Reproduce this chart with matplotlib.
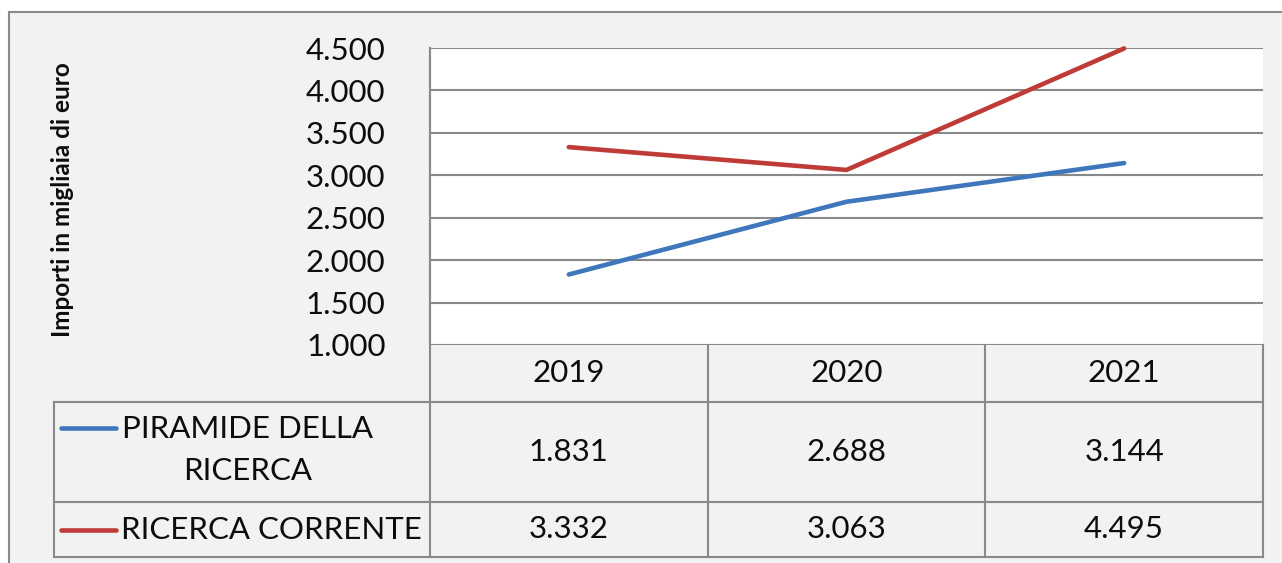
import matplotlib.pyplot as plt
from matplotlib.ticker import FuncFormatter

plt.rcParams['font.family'] = ['Lato', 'DejaVu Sans']

years = ['2019', '2020', '2021']
piramide = [1831, 2688, 3144]
corrente = [3332, 3063, 4495]
series_names = ['PIRAMIDE DELLA\nRICERCA', 'RICERCA CORRENTE']
series_colors = ['#3f77bc', '#bf3b37']
yticks = [1000, 1500, 2000, 2500, 3000, 3500, 4000, 4500]


def it_num(v, pos=None):
    # italian thousands separator
    return f"{int(v):,}".replace(",", ".")


W, H = 1282, 563
fig = plt.figure(figsize=(W / 100, H / 100), dpi=100)
fig.patch.set_facecolor('white')

grid_c = '#898989'
bg = '#f2f2f2'
txt_c = '#0d0d0d'
fs = 22.5

# pixel layout
px_left, px_right = 430, 1263
px_top, px_axis = 48, 345
row_y = [345, 402, 502, 557]
tab_left = 54

# background in pixel coords
bgax = fig.add_axes([0, 0, 1, 1])
bgax.set_xlim(0, W)
bgax.set_ylim(H, 0)
bgax.axis('off')
bgax.add_patch(plt.Rectangle((9, 12), W, H, facecolor=bg, edgecolor=grid_c, lw=1.5))

# plot area
ax = fig.add_axes([px_left / W, 1 - px_axis / H, (px_right - px_left) / W, (px_axis - px_top) / H])
ax.set_facecolor('white')
ax.set_xlim(-0.5, len(years) - 0.5)
ax.set_ylim(yticks[0], yticks[-1])
ax.set_yticks(yticks)
ax.yaxis.set_major_formatter(FuncFormatter(it_num))
ax.set_xticks([])
ax.tick_params(axis='y', length=0, pad=32, labelsize=fs, colors=txt_c)
for s in ['top', 'right', 'bottom']:
    ax.spines[s].set_visible(False)
ax.spines['left'].set_color(grid_c)
ax.spines['left'].set_linewidth(1.5)
ax.grid(axis='y', color=grid_c, lw=1.5)
ax.set_axisbelow(True)

xs = range(len(years))
ax.plot(xs, piramide, color=series_colors[0], lw=3.3, solid_capstyle='round', clip_on=False)
ax.plot(xs, corrente, color=series_colors[1], lw=3.3, solid_capstyle='round', clip_on=False)

fig.text(63 / W, 1 - 200 / H, 'Importi in migliaia di euro', rotation=90,
         ha='center', va='center', fontsize=17.5, fontweight='bold', color=txt_c)

# data table below the plot
col_w = (px_right - px_left) / len(years)
cols = [px_left + i * col_w for i in range(len(years) + 1)]
tab = fig.add_axes([0, 0, 1, 1], facecolor='none')
tab.set_xlim(0, W)
tab.set_ylim(H, 0)
tab.axis('off')

tab.plot([px_left, px_left], [px_top, row_y[-1]], color=grid_c, lw=1.5)
tab.plot([px_right, px_right], [row_y[0], row_y[-1]], color=grid_c, lw=1.5)
for c in cols[1:-1]:
    tab.plot([c, c], [row_y[0], row_y[-1]], color=grid_c, lw=1.5)
for y in row_y[1:]:
    tab.plot([tab_left, px_right], [y, y], color=grid_c, lw=1.5)
tab.plot([tab_left, tab_left], [row_y[1], row_y[-1]], color=grid_c, lw=1.5)

for i, yr in enumerate(years):
    cx = (cols[i] + cols[i + 1]) / 2
    tab.text(cx, (row_y[0] + row_y[1]) / 2, yr, ha='center', va='center', fontsize=fs, color=txt_c)
    for r, vals in enumerate([piramide, corrente]):
        cy = (row_y[r + 1] + row_y[r + 2]) / 2
        tab.text(cx, cy, it_num(vals[i]), ha='center', va='center', fontsize=fs, color=txt_c)

# legend keys in the table
legend_y = [428, 530]
for r in range(2):
    tab.plot([61, 116], [legend_y[r], legend_y[r]], color=series_colors[r], lw=3.3, solid_capstyle='round')
tab.text(248, 450, series_names[0], ha='center', va='center',
         fontsize=fs, color=txt_c, linespacing=1.6)
tab.text(121, legend_y[1], series_names[1], ha='left', va='center', fontsize=fs, color=txt_c)

fig.savefig('out.png', dpi=100)
